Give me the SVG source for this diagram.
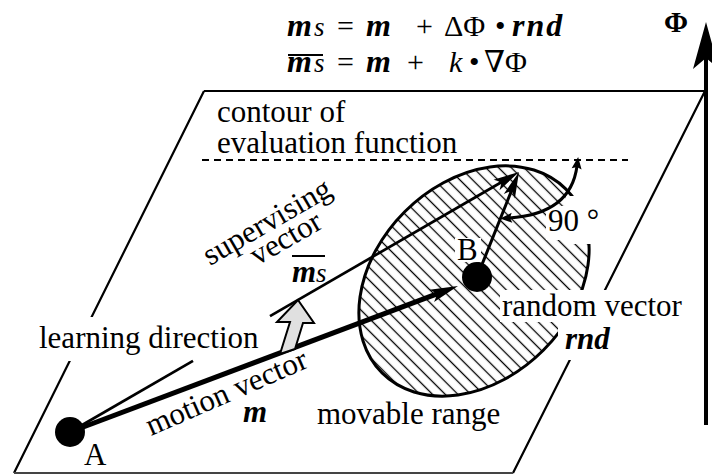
<svg xmlns="http://www.w3.org/2000/svg" width="712" height="475" viewBox="0 0 712 475">
<style>
.bi{font-weight:bold;font-style:italic}
.it{font-style:italic}
.edge{stroke:#000;stroke-width:2.2;fill:none}
.ln{stroke:#000;fill:none}
.wb{fill:#fff;stroke:none}
</style>
<defs>
<pattern id="hatch" patternUnits="userSpaceOnUse" width="9" height="9">
<line x1="4.5" y1="0" x2="4.5" y2="9" stroke="#000" stroke-width="1.3"/>
</pattern>
<marker id="ahBig" markerUnits="userSpaceOnUse" viewBox="0 -7 32 14" markerWidth="32" markerHeight="14" refX="16" refY="0" orient="auto" overflow="visible">
<path d="M30,0 L2,-6.5 L8,0 L2,6.5 Z" fill="#000"/>
</marker>
<marker id="ahMid" markerUnits="userSpaceOnUse" viewBox="0 -7 28 14" markerWidth="28" markerHeight="14" refX="12" refY="0" orient="auto" overflow="visible">
<path d="M26,0 L0,-6 L6,0 L0,6 Z" fill="#000"/>
</marker>
<marker id="ahSmall" markerUnits="userSpaceOnUse" viewBox="0 -6 14 12" markerWidth="14" markerHeight="12" refX="3" refY="0" orient="auto-start-reverse" overflow="visible">
<path d="M12,0 L0,-5 L2,0 L0,5 Z" fill="#000"/>
</marker>
</defs>

<g id="plane">
<path class="edge" d="M204,91 L705,91 M204,91 L14,473 M705,91 L513,473"/>
<line x1="14" y1="473" x2="513" y2="473" stroke="#444" stroke-width="2"/>
<line class="ln" x1="202" y1="160" x2="628" y2="160" stroke-width="2" stroke-dasharray="7 5"/>
</g>

<g id="range">
<ellipse cx="474" cy="281" rx="130" ry="98" transform="rotate(-45 474 281)" fill="url(#hatch)" stroke="#000" stroke-width="3"/>
<rect class="wb" x="546" y="206" width="59" height="34"/>
<rect class="wb" x="566" y="196" width="39" height="48"/>
<rect class="wb" x="500" y="290" width="192" height="32"/>
<rect class="wb" x="558" y="322" width="58" height="38"/>
<rect class="wb" x="455" y="238" width="26" height="24"/>
<rect class="wb" x="36" y="317" width="232" height="44"/>
</g>

<g id="connectors">
<path class="ln" stroke-width="2.7" d="M70,432 L193,360.8"/>
<path class="ln" stroke-width="2.7" d="M270,316.2 L506.9,179" marker-end="url(#ahMid)"/>
<path class="ln" stroke-width="5" d="M70,432 L444.9,290.9" marker-end="url(#ahBig)"/>
<path class="ln" stroke-width="3" d="M477,277 L513.8,185" marker-end="url(#ahMid)"/>
<path class="ln" stroke-width="3" d="M509,218 C540,216 572,205 577,166" marker-start="url(#ahSmall)" marker-end="url(#ahSmall)"/>
<polygon points="280,354 290,322 277,322 298,300 314,323 303,323 295,349" fill="#e0e0e0" stroke="#000" stroke-width="2"/>
<line class="ln" x1="706" y1="425" x2="706" y2="58" stroke-width="4"/>
<path d="M706,22 L693,69 L706,58 L719,69 Z" fill="#000"/>
</g>

<g id="nodeA"><circle cx="70" cy="432" r="15" fill="#000"/></g>
<g id="nodeB"><circle cx="477" cy="277" r="15" fill="#000"/></g>

<g id="labels" font-family="Liberation Serif" font-size="31">
<text font-family="Liberation Serif" x="217" y="122">contour of</text>
<text font-family="Liberation Serif" x="217" y="153">evaluation function</text>
<text font-family="Liberation Serif" x="39" y="348">learning direction</text>
<text font-family="Liberation Serif" class="bi" x="243" y="422">m</text>
<text font-family="Liberation Serif" x="317" y="424">movable range</text>
<text font-family="Liberation Serif" x="84" y="465">A</text>
<text font-family="Liberation Serif" x="457" y="260">B</text>
<text font-family="Liberation Serif" x="548" y="231">90 °</text>
<text font-family="Liberation Serif" x="502" y="316">random vector</text>
<text font-family="Liberation Serif" class="bi" x="565" y="349">rnd</text>
<text font-family="Liberation Serif" x="664" y="32" font-weight="bold" font-size="29">Φ</text>
<text font-family="Liberation Serif" class="bi" x="292" y="282">m</text>
<text font-family="Liberation Serif" class="it" x="316" y="282" font-size="27">s</text>
<line class="ln" x1="292" y1="256" x2="325" y2="256" stroke-width="2"/>
<text font-family="Liberation Serif" transform="translate(210,266) rotate(-30)">supervising</text>
<text font-family="Liberation Serif" transform="translate(257,266) rotate(-30)">vector</text>
<text font-family="Liberation Serif" transform="translate(151,436) rotate(-23.5)">motion vector</text>
</g>

<g id="formula" font-family="Liberation Serif" font-size="30">
<text font-family="Liberation Serif" class="bi" x="287" y="36" font-size="32">m</text>
<text font-family="Liberation Serif" class="it" x="314" y="36" font-size="27">s</text>
<text font-family="Liberation Serif" x="337" y="36">=</text>
<text font-family="Liberation Serif" class="bi" x="366" y="36" font-size="32">m</text>
<text font-family="Liberation Serif" x="416" y="36">+</text>
<text font-family="Liberation Serif" x="444" y="36">ΔΦ</text>
<text font-family="Liberation Serif" x="495" y="36">•</text>
<text font-family="Liberation Serif" class="bi" x="512" y="36" font-size="32" letter-spacing="2">rnd</text>
<text font-family="Liberation Serif" class="bi" x="287" y="72" font-size="32">m</text>
<text font-family="Liberation Serif" class="it" x="314" y="72" font-size="27">s</text>
<line class="ln" x1="288" y1="55" x2="323" y2="55" stroke-width="2"/>
<text font-family="Liberation Serif" x="337" y="72">=</text>
<text font-family="Liberation Serif" class="bi" x="366" y="72" font-size="32">m</text>
<text font-family="Liberation Serif" x="407" y="72">+</text>
<text font-family="Liberation Serif" class="it" x="449" y="72">k</text>
<text font-family="Liberation Serif" x="469" y="72">•</text>
<text font-family="Liberation Serif, DejaVu Serif" x="484" y="72">∇Φ</text>
</g>
</svg>
